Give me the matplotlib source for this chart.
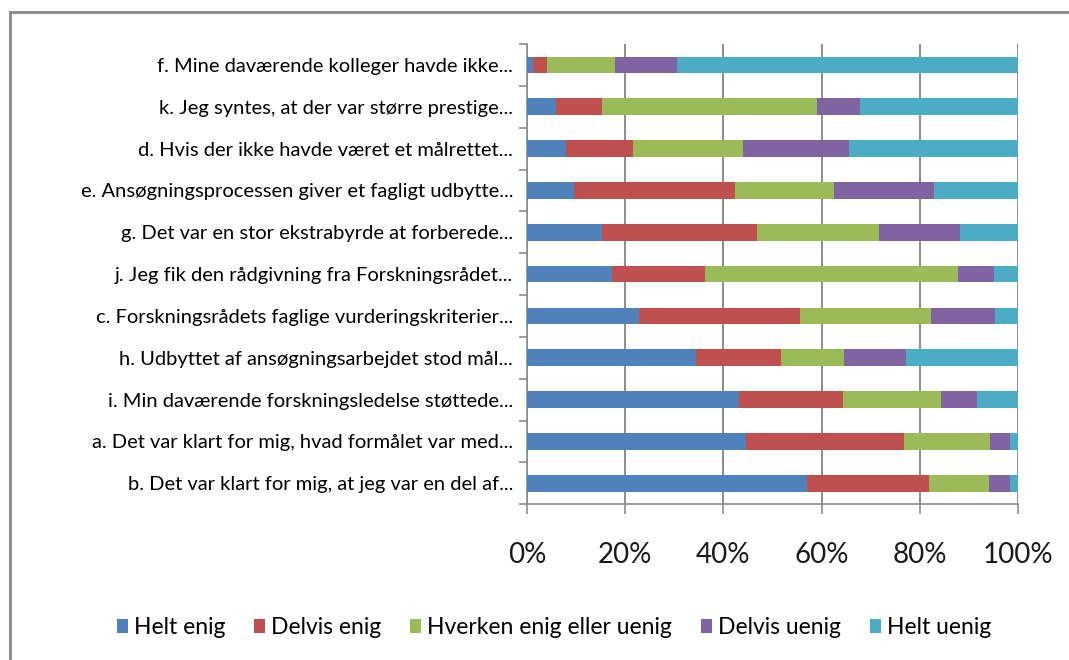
import numpy as np
import matplotlib
matplotlib.use("Agg")
import matplotlib.pyplot as plt
from matplotlib.lines import Line2D

# =====================================================
# DATA (percent of respondents, top row first)
# =====================================================

CATEGORIES = [
    "f. Mine daværende kolleger havde ikke...",
    "k. Jeg syntes, at der var større prestige...",
    "d. Hvis der ikke havde været et målrettet...",
    "e. Ansøgningsprocessen giver et fagligt udbytte...",
    "g. Det var en stor ekstrabyrde at forberede...",
    "j. Jeg fik den rådgivning fra Forskningsrådet...",
    "c. Forskningsrådets faglige vurderingskriterier...",
    "h. Udbyttet af ansøgningsarbejdet stod mål...",
    "i. Min daværende forskningsledelse støttede...",
    "a. Det var klart for mig, hvad formålet var med...",
    "b. Det var klart for mig, at jeg var en del af...",
]

SERIES = [
    "Helt enig",
    "Delvis enig",
    "Hverken enig eller uenig",
    "Delvis uenig",
    "Helt uenig",
]

helt_enig    = [1.2, 5.9, 7.9, 9.5, 15.3, 17.3, 22.9, 34.4, 43.1, 44.6, 57.0]
delvis_enig  = [2.9, 9.4, 13.6, 32.8, 31.6, 18.9, 32.6, 17.3, 21.2, 32.1, 24.9]
hverken      = [13.9, 43.7, 22.5, 20.3, 24.7, 51.5, 26.7, 12.9, 20.0, 17.5, 12.1]
delvis_uenig = [12.5, 8.8, 21.5, 20.2, 16.5, 7.4, 13.2, 12.6, 7.3, 4.1, 4.3]
helt_uenig   = [69.5, 32.2, 34.5, 17.2, 11.9, 4.9, 4.6, 22.8, 8.4, 1.7, 1.7]

COLORS = ["#4F81BD", "#C0504D", "#9BBB59", "#8064A2", "#4BACC6"]

TICKS = [0, 20, 40, 60, 80, 100]
TICK_LABELS = ["0%", "20%", "40%", "60%", "80%", "100%"]

# =====================================================
# PLOT
# =====================================================

plt.rcParams["font.family"] = ["Lato", "DejaVu Sans"]

fig = plt.figure(figsize=(10.69, 6.6), dpi=100)
ax = fig.add_axes([0.493, 0.236, 0.4593, 0.6973])

y = np.arange(len(CATEGORIES))
left = np.zeros(len(CATEGORIES))

for name, vals, col in zip(
    SERIES,
    [helt_enig, delvis_enig, hverken, delvis_uenig, helt_uenig],
    COLORS
):
    ax.barh(y, vals, left=left, height=0.4, color=col, label=name, zorder=3)
    left = left + np.array(vals)

ax.set_xlim(0, 100)
ax.set_ylim(len(CATEGORIES) - 0.5, -0.5)

ax.set_xticks(TICKS)
ax.set_xticklabels(TICK_LABELS, fontsize=20, color="#1a1a1a")
ax.tick_params(axis="x", length=7, width=1.2, color="#8c8c8c", pad=20)

ax.set_yticks(y)
ax.set_yticklabels(CATEGORIES, fontsize=14.5, color="black")
ax.set_yticks(np.arange(len(CATEGORIES) + 1) - 0.5, minor=True)
ax.tick_params(axis="y", which="major", length=0, pad=10)
ax.tick_params(axis="y", which="minor", length=6, width=1.2, color="#8c8c8c")

ax.grid(axis="x", color="#8c8c8c", linewidth=1.4, zorder=0)

for side in ["top", "right"]:
    ax.spines[side].set_visible(False)
for side in ["left", "bottom"]:
    ax.spines[side].set_color("#8c8c8c")
    ax.spines[side].set_linewidth(1.2)

# legend along the bottom
fig.legend(
    loc="center",
    bbox_to_anchor=(0.518, 0.049),
    ncol=5,
    frameon=False,
    fontsize=16.5,
    labelcolor="black",
    handlelength=0.5,
    handleheight=0.5,
    handletextpad=0.25,
    columnspacing=1.25,
)

# chart area border (cropped on the right and bottom)
fig.add_artist(Line2D([0.0094, 1.0], [0.982, 0.982], transform=fig.transFigure,
                      color="#8a8a8a", linewidth=2))
fig.add_artist(Line2D([0.0094, 0.0094], [0.0, 0.982], transform=fig.transFigure,
                      color="#8a8a8a", linewidth=2))

plt.savefig("out.png", dpi=100)
plt.close()
